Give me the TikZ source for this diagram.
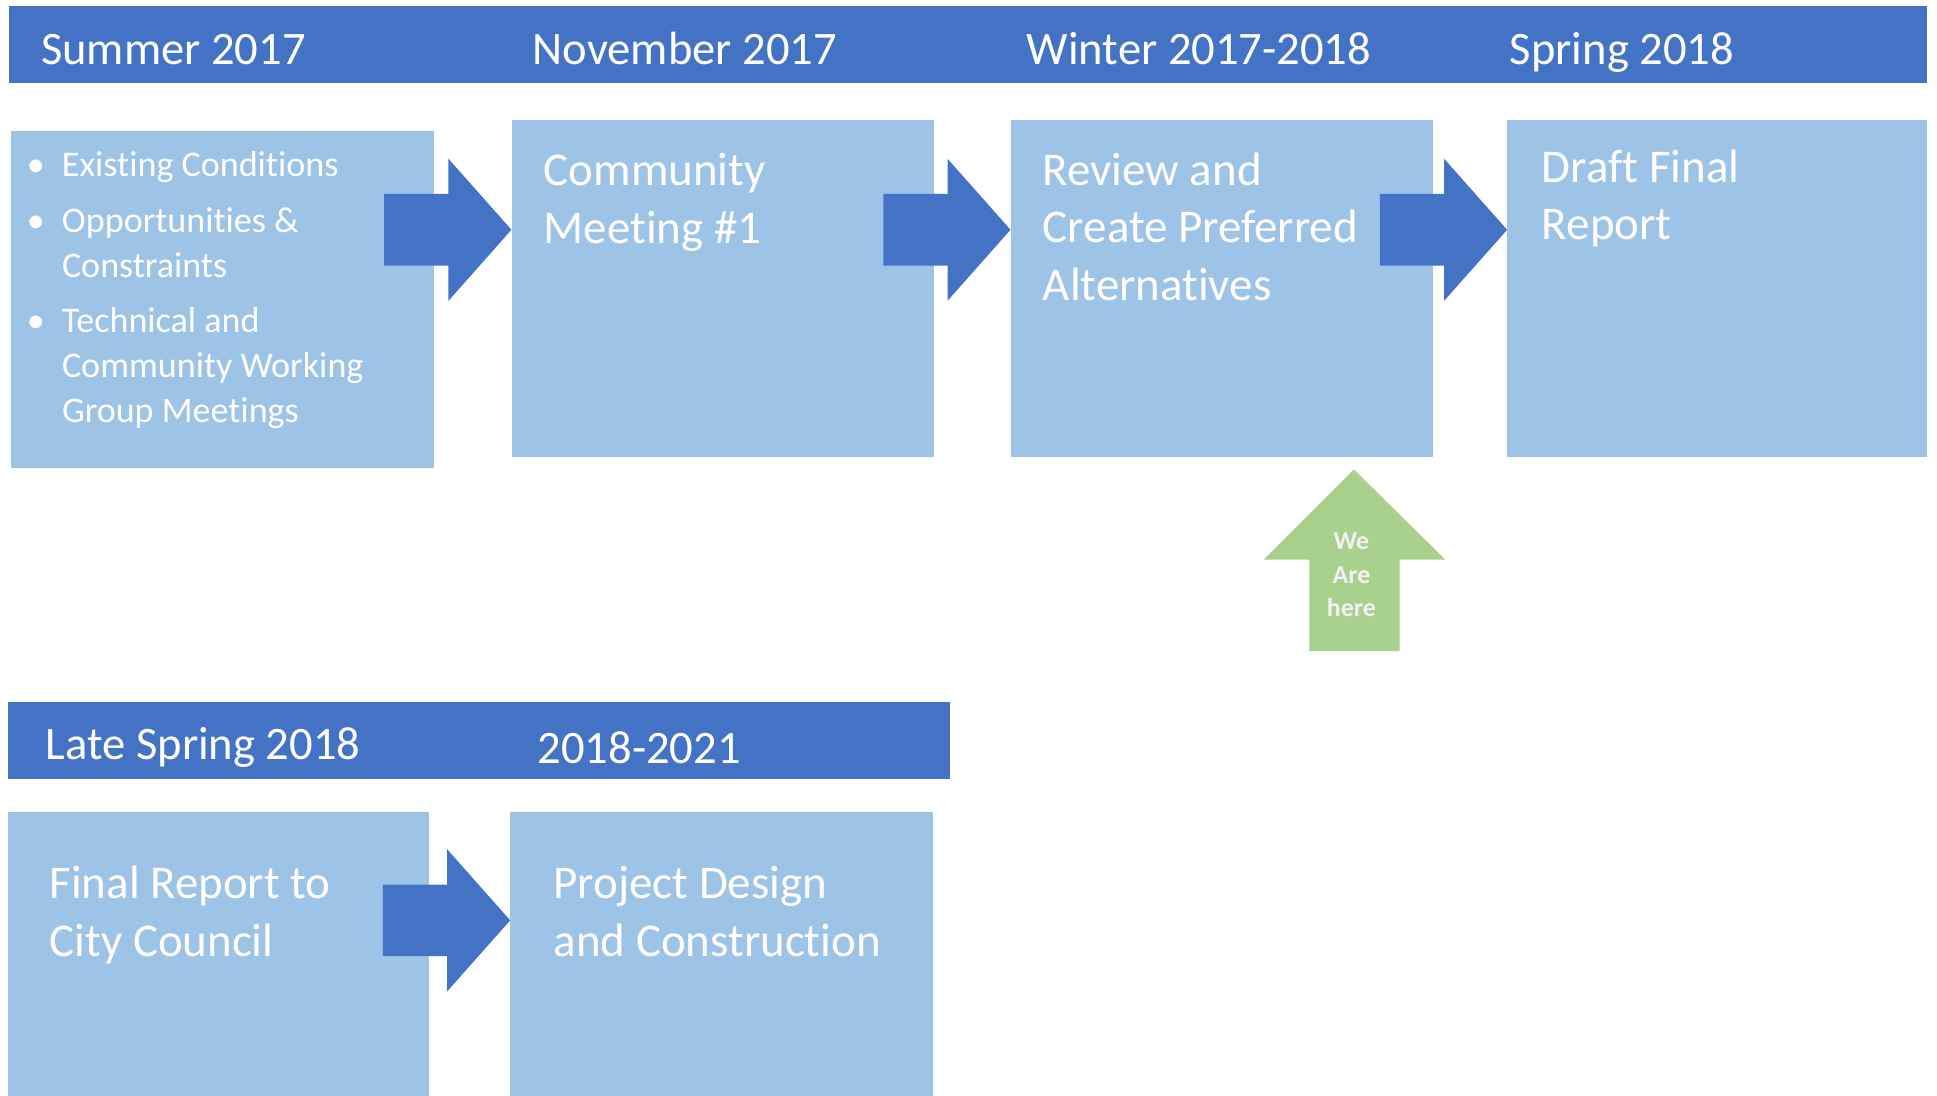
\documentclass[tikz,border=0pt]{standalone}
\usepackage{fontspec}
\setmainfont{Carlito}[Ligatures=NoCommon]
\usepackage{tikz}
\usetikzlibrary{calc}

\definecolor{barblue}{HTML}{4472C4}
\definecolor{boxblue}{HTML}{9DC3E6}
\definecolor{heregreen}{HTML}{A9D18E}
\definecolor{heretext}{HTML}{F2F2F2}

\tikzset{
  bar/.style={fill=barblue, draw=none, inner sep=0, anchor=north west},
  box/.style={fill=boxblue, draw=none, inner sep=0, anchor=north west},
  hdr/.style={text=white, inner sep=0, anchor=base west, font=\fontsize{37.7}{46.5}\selectfont},
  boxtext/.style={text=white, inner sep=0, anchor=base west, align=left, font=\fontsize{38}{46.5}\selectfont},
  itemtext/.style={text=white, inner sep=0, anchor=base west, align=left, font=\fontsize{29.2}{36.5}\selectfont},
  blockarrow/.pic={\fill[barblue] (-103,-29) -- (-51,-29) -- (-51,-57.5) -- (0,0) -- (-51,57.5) -- (-51,29) -- (-103,29) -- cycle;}
}

\begin{document}
\begin{tikzpicture}[x=1pt,y=-1pt]
    \useasboundingbox (0,0) rectangle (1568,887);
    %% Bars
    \node[bar, minimum width=1553pt, minimum height=62pt] (topbar) at (7,5) {};
    \node[bar, minimum width=763pt, minimum height=62pt] (lowbar) at (6,568) {};
    %% Boxes
    \node[box, minimum width=342pt, minimum height=273pt] (b1) at (9,106) {};
    \node[box, minimum width=342pt, minimum height=273pt] (b2) at (414,97) {};
    \node[box, minimum width=342pt, minimum height=273pt] (b3) at (818,97) {};
    \node[box, minimum width=340pt, minimum height=273pt] (b4) at (1220,97) {};
    \node[box, minimum width=341pt, minimum height=230pt] (b5) at (6,657) {};
    \node[box, minimum width=342pt, minimum height=230pt] (b6) at (413,657) {};
    %% Block arrows
    \coordinate (a1) at (b2.west |- 0,186);
    \coordinate (a2) at (b3.west |- 0,186);
    \coordinate (a3) at (b4.west |- 0,186);
    \coordinate (a4) at (b6.west |- 0,745);
    \pic at (a1) {blockarrow};
    \pic at (a2) {blockarrow};
    \pic at (a3) {blockarrow};
    \pic at (a4) {blockarrow};
    %% Headers
    \node[hdr] (hsum) at (33,52) {Summer 2017};
    \node[hdr] (hnov) at (431,52) {November 2017};
    \node[hdr] (hwin) at (831,52) {Winter 2017-2018};
    \node[hdr] (hspr) at (1222,52) {Spring 2018};
    \node[hdr] (hlate) at (37,615) {Late Spring 2018};
    \node[hdr] (hdes) at (435,618) {2018-2021};
    %% Box texts (anchored at the last baseline)
    \node[itemtext] (i1) at (50,143) {\llap{•\hspace{14pt}}Existing Conditions};
    \node[itemtext] (i2) at (50,225) {\llap{•\hspace{14pt}}Opportunities \&\\Constraints};
    \node[itemtext] (i3) at (50,342) {\llap{•\hspace{14pt}}Technical and\\Community Working\\Group Meetings};
    \node[boxtext] (t2) at (440,197) {Community\\Meeting \#1};
    \node[boxtext] (t3) at (844,243) {Review and\\Create Preferred\\Alternatives};
    \node[boxtext] (t4) at (1248,194) {Draft Final\\Report};
    \node[boxtext] (t5) at (40,774) {Final Report to\\City Council};
    \node[boxtext] (t6) at (448,774) {Project Design\\and Construction};
    %% We are here
    \coordinate (tip) at (1096,380);
    \fill[heregreen] (tip) -- ($(tip)+(74,73)$) -- ($(tip)+(37,73)$) -- ($(tip)+(37,147)$)
      -- ($(tip)+(-36,147)$) -- ($(tip)+(-36,73)$) -- ($(tip)+(-73,73)$) -- cycle;
    \node[text=heretext, inner sep=0, align=center, font=\bfseries\fontsize{21}{27}\selectfont, anchor=base]
      (here) at ($(tip)+(-2,119)$) {We\\Are\\here};
\end{tikzpicture}
\end{document}
